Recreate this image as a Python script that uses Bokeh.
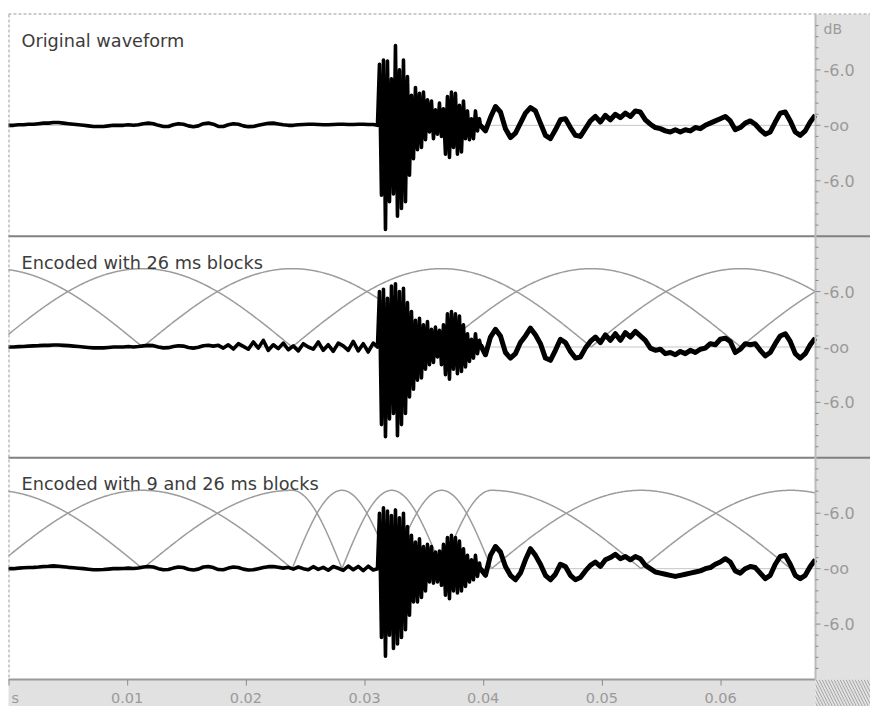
import numpy as np
from bokeh.plotting import figure
from bokeh.models import Range1d
from bokeh.embed import file_html
from bokeh.resources import INLINE
from bokeh.core.properties import value

# ---------------- data ----------------
panel_titles = ["Original waveform",
                "Encoded with 26 ms blocks",
                "Encoded with 9 and 26 ms blocks"]

time_ticks = [0.0, 0.01, 0.02, 0.03, 0.04, 0.05, 0.06]
time_tick_labels = ["s", "0.01", "0.02", "0.03", "0.04", "0.05", "0.06"]

db_major = [0.5, 0.0, -0.5]
db_major_labels = ["-6.0", "-oo", "-6.0"]
db_minor = [0.9, 0.8, 0.7, 0.6, 0.4, 0.3, 0.2, 0.1,
            -0.1, -0.2, -0.3, -0.4, -0.6, -0.7, -0.8, -0.9]
db_unit = "dB"

t_view_end = 0.068  # seconds shown

# waveform samples (amplitude, full scale = 1), three segments each,
# segment start time and sample step in ms
pre_start_ms, pre_step_ms = 0.0, 0.421
burst_start_ms, burst_step_ms = 31.09, 0.1685
tail_start_ms, tail_step_ms = 39.77, 0.421

pre_orig = [0.0, 0.0, 0.005, 0.005, 0.01, 0.01, 0.015, 0.02, 0.02, 0.025,
            0.025, 0.02, 0.015, 0.01, 0.005, 0.0, -0.005, -0.01, -0.01, -0.01,
            -0.005, 0.0, 0.0, 0.0, 0.005, 0.0, 0.005, 0.015, 0.02, 0.015,
            0.0, -0.01, -0.01, 0.005, 0.015, 0.01, -0.005, -0.012, -0.005, 0.015,
            0.02, 0.01, -0.01, -0.01, 0.005, 0.015, 0.01, -0.005, -0.012, -0.01,
            0.0, 0.01, 0.018, 0.02, 0.012, 0.005, 0.0, 0.0, 0.005, 0.008,
            0.01, 0.01, 0.008, 0.005, 0.005, 0.008, 0.01, 0.01, 0.008, 0.008,
            0.01, 0.01, 0.008, 0.008]
pre_26 = [0.0, 0.0, 0.003, 0.005, 0.008, 0.01, 0.012, 0.015, 0.015, 0.018,
          0.018, 0.015, 0.012, 0.008, 0.004, 0.0, -0.004, -0.008, -0.008, -0.008,
          -0.004, 0.0, 0.0, 0.0, 0.004, 0.0, 0.004, 0.01, 0.015, 0.012,
          0.0, -0.008, -0.006, 0.004, 0.012, 0.008, -0.004, -0.01, -0.002, 0.012,
          0.016, 0.008,
          0.015, -0.01, 0.02, -0.018, 0.03, 0.005, -0.02, 0.045, -0.01, 0.06,
          -0.03, 0.02, -0.015, 0.035, -0.025, 0.01, -0.035, 0.03, 0.0, -0.02,
          0.045, -0.03, 0.02, -0.04, 0.035, 0.01, -0.03, 0.05, -0.035, 0.03,
          -0.045, 0.035]
pre_mix = [0.0, 0.0, 0.005, 0.008, 0.01, 0.012, 0.015, 0.02, 0.022, 0.025,
           0.022, 0.018, 0.012, 0.008, 0.004, 0.0, -0.005, -0.01, -0.01, -0.008,
           -0.004, 0.0, 0.0, 0.002, 0.005, 0.002, 0.006, 0.015, 0.02, 0.015,
           0.0, -0.01, -0.008, 0.005, 0.015, 0.01, -0.005, -0.012, -0.004, 0.015,
           0.02, 0.01, -0.008, -0.01, 0.005, 0.015, 0.01, -0.004, -0.012, -0.01,
           0.0, 0.01, 0.018, 0.02, 0.012, 0.005,
           0.012, -0.004, 0.015, 0.0, -0.01, 0.018, -0.006, 0.012, -0.014, 0.02,
           0.004, -0.015, 0.024, -0.01, 0.02, -0.018, 0.022, -0.012]

burst_orig = [0.0,
              0.55, -0.63, 0.59, -0.94, 0.58, -0.69, 0.42, -0.62, 0.72, -0.82,
              0.5, -0.75, 0.59, -0.69, 0.44, -0.45, 0.27, -0.3, 0.34, -0.22,
              0.29, -0.2, 0.3, -0.13, 0.23, -0.06, 0.22, -0.12, 0.14, -0.08,
              0.2, -0.1, 0.15, -0.26, 0.26, -0.29, 0.3, -0.2, 0.29, -0.26,
              0.18, -0.24, 0.22, -0.12, 0.13, -0.13, 0.06, -0.12, 0.13, -0.05,
              0.06]
burst_26 = [0.0,
            0.5, -0.7, 0.52, -0.81, 0.44, -0.65, 0.55, -0.6, 0.57, -0.8,
            0.5, -0.7, 0.53, -0.6, 0.4, -0.45, 0.32, -0.38, 0.24, -0.3,
            0.26, -0.28, 0.2, -0.2, 0.23, -0.16, 0.16, -0.14, 0.18, -0.09,
            0.15, -0.16, 0.2, -0.25, 0.3, -0.29, 0.32, -0.2, 0.3, -0.24,
            0.28, -0.22, 0.2, -0.18, 0.12, -0.13, 0.07, -0.1, 0.12, -0.06,
            0.06]
burst_mix = [0.0,
             0.5, -0.62, 0.55, -0.79, 0.52, -0.6, 0.48, -0.72, 0.53, -0.68,
             0.46, -0.62, 0.5, -0.55, 0.38, -0.42, 0.3, -0.3, 0.24, -0.3,
             0.27, -0.26, 0.2, -0.2, 0.22, -0.12, 0.2, -0.13, 0.15, -0.12,
             0.16, -0.15, 0.22, -0.24, 0.28, -0.27, 0.3, -0.2, 0.28, -0.22,
             0.25, -0.2, 0.18, -0.16, 0.12, -0.12, 0.08, -0.1, 0.12, -0.07,
             0.05]

tail_orig = [0.0, -0.05, 0.07, 0.17, 0.12, -0.03, -0.11, -0.07, 0.02, 0.11,
             0.16, 0.13, 0.02, -0.09, -0.12, -0.04, 0.05, 0.06, -0.02, -0.09,
             -0.1, -0.03, 0.04, 0.08, 0.03, 0.09, 0.05, 0.1, 0.07, 0.11,
             0.08, 0.13, 0.12, 0.05, 0.01, -0.02, -0.03, -0.05, -0.06, -0.04,
             -0.06, -0.04, -0.05, -0.02, -0.03, 0.0, 0.02, 0.04, 0.06, 0.08,
             0.04, -0.04, -0.02, 0.02, 0.04, 0.01, -0.04, -0.08, -0.06, 0.03,
             0.11, 0.12, 0.04, -0.06, -0.09, -0.05, 0.03, 0.09]
tail_26 = [0.02, -0.07, 0.09, 0.16, 0.1, -0.05, -0.1, -0.06, 0.04, 0.1,
           0.17, 0.11, 0.03, -0.1, -0.12, -0.03, 0.07, 0.04, -0.04, -0.1,
           -0.09, -0.01, 0.05, 0.09, 0.04, 0.11, 0.06, 0.12, 0.06, 0.13,
           0.09, 0.14, 0.1, 0.06, -0.01, -0.03, -0.02, -0.06, -0.05, -0.07,
           -0.04, -0.06, -0.03, -0.05, -0.02, -0.01, 0.03, 0.02, 0.07, 0.08,
           0.05, -0.05, -0.02, 0.03, 0.02, 0.03, -0.03, -0.08, -0.05, 0.03,
           0.1, 0.12, 0.05, -0.06, -0.1, -0.06, 0.02, 0.08]
tail_mix = [0.0, -0.06, 0.12, 0.2, 0.15, 0.02, -0.06, -0.1, -0.04, 0.08,
            0.18, 0.12, 0.04, -0.06, -0.1, -0.05, 0.04, 0.02, -0.06, -0.1,
            -0.08, -0.02, 0.03, 0.06, 0.02, 0.08, 0.1, 0.13, 0.09, 0.11,
            0.08, 0.11, 0.09, 0.03, 0.0, -0.03, -0.04, -0.05, -0.06, -0.07,
            -0.06, -0.05, -0.04, -0.03, -0.02, 0.0, 0.01, 0.04, 0.06, 0.09,
            0.06, -0.02, -0.04, 0.0, 0.02, 0.01, -0.04, -0.09, -0.06, 0.04,
            0.11, 0.12, 0.04, -0.06, -0.09, -0.06, 0.02, 0.08]

# MDCT windows (ms): rise start, peak start, peak end, fall end
window_peak = 0.707
win26_rise_start = [-13.9, -1.3, 11.3, 23.9, 36.5, 49.1, 61.7]
win26_peak_start = [-1.3, 11.3, 23.9, 36.5, 49.1, 61.7, 74.3]
win26_peak_end = [-1.3, 11.3, 23.9, 36.5, 49.1, 61.7, 74.3]
win26_fall_end = [11.3, 23.9, 36.5, 49.1, 61.7, 74.3, 86.9]

winmix_rise_start = [-13.9, -1.3, 11.3, 23.9, 28.1, 32.3, 36.5, 40.7, 53.3]
winmix_peak_start = [-1.3, 11.3, 23.9, 28.1, 32.3, 36.5, 40.7, 53.3, 65.9]
winmix_peak_end = [-1.3, 11.3, 23.9, 28.1, 32.3, 36.5, 40.7, 53.3, 65.9]
winmix_fall_end = [11.3, 23.9, 28.1, 32.3, 36.5, 40.7, 53.3, 65.9, 78.5]

# ---------------- layout (page pixels) ----------------
W, H = 870, 706
PX_T0 = 8           # x pixel of t = 0
PX_T_END = 815      # x pixel where the time view ends
PX_TOP = 14         # y pixel of the top of the panels
PX_BOTTOM = 679     # y pixel of the bottom of the panels
STRIP = "#e1e1e1"
FONT = value("DejaVu Sans")

upx_x = t_view_end / (PX_T_END - PX_T0)
upx_y = 6.0 / (PX_BOTTOM - PX_TOP)
x_start = -PX_T0 * upx_x
x_end = (W - PX_T0) * upx_x
y_top = 3 + PX_TOP * upx_y
y_bot = -3 - (H - PX_BOTTOM) * upx_y
centers = [2.0, 0.0, -2.0]


def ypx(px):  # page pixel row -> data y
    return y_top - px * upx_y


p = figure(width=W, height=H, x_range=Range1d(x_start, x_end), y_range=Range1d(y_bot, y_top),
           x_axis_type=None, y_axis_type=None, toolbar_location=None,
           output_backend="svg", min_border=0, outline_line_color=None,
           background_fill_color="white", border_fill_color="white")

# strips
p.quad(left=[t_view_end], right=[x_end], bottom=[-3], top=[3],
       fill_color=STRIP, line_color=None)
p.quad(left=[0], right=[t_view_end], bottom=[y_bot], top=[-3],
       fill_color=STRIP, line_color=None)
p.quad(left=[t_view_end], right=[x_end], bottom=[y_bot], top=[-3],
       fill_color=STRIP, line_color=None, hatch_pattern="\\",
       hatch_color="#a8a8a8", hatch_scale=6, hatch_weight=1)

# zero lines
p.segment(x0=[0] * 3, y0=centers, x1=[t_view_end] * 3, y1=centers,
          line_color="#c6c6c6", line_width=1)


def window_curves(rs, ps, pe, fe, center):
    xs, ys = [], []
    for a, b, c, d in zip(rs, ps, pe, fe):
        lo, hi = max(a, 0.0), min(d, t_view_end * 1000)
        if lo >= hi:
            continue
        t = np.linspace(lo, hi, 300)
        w = np.where(t < b, np.sin(0.5 * np.pi * (t - a) / (b - a)),
                     np.where(t <= c, 1.0,
                              np.cos(0.5 * np.pi * (t - c) / (d - c))))
        xs.append(list(t / 1000.0))
        ys.append(list(center + window_peak * w))
    return xs, ys


for (rs, ps, pe, fe), c in [((win26_rise_start, win26_peak_start, win26_peak_end, win26_fall_end), centers[1]),
                            ((winmix_rise_start, winmix_peak_start, winmix_peak_end, winmix_fall_end), centers[2])]:
    xs, ys = window_curves(rs, ps, pe, fe, c)
    p.multi_line(xs=xs, ys=ys, line_color="#9c9c9c", line_width=1.5)


def seg_times(start, step, n):
    return [(start + i * step) / 1000.0 for i in range(n)]


for (pre, burst, tail), c in zip([(pre_orig, burst_orig, tail_orig),
                                  (pre_26, burst_26, tail_26),
                                  (pre_mix, burst_mix, tail_mix)], centers):
    t = (seg_times(pre_start_ms, pre_step_ms, len(pre))
         + seg_times(burst_start_ms, burst_step_ms, len(burst))
         + seg_times(tail_start_ms, tail_step_ms, len(tail)))
    v = [c + a for a in (pre + burst + tail)]
    p.line(t, v, line_color="black", line_width=3.6, line_join="round")
    # the decaying tail is drawn thicker, as in the reference
    p.line(seg_times(tail_start_ms, tail_step_ms, len(tail)), [c + a for a in tail],
           line_color="black", line_width=5, line_join="round")

# panel separators
p.segment(x0=[0, 0], y0=[1, -1], x1=[x_end, x_end], y1=[1, -1],
          line_color="#808080", line_width=2)
# dashed top and left borders
p.segment(x0=[0], y0=[3 + 0.5 * upx_y], x1=[x_end], y1=[3 + 0.5 * upx_y],
          line_color="#9a9a9a", line_width=1, line_dash="3 2")
p.segment(x0=[0.5 * upx_x], y0=[3], x1=[0.5 * upx_x], y1=[-3],
          line_color="#9a9a9a", line_width=1, line_dash="3 2")
# time axis line and ticks
p.segment(x0=[0], y0=[-3], x1=[t_view_end], y1=[-3], line_color="#9a9a9a", line_width=2)
p.segment(x0=[t + 0.5 * upx_x for t in time_ticks], y0=[-3] * len(time_ticks),
          x1=[t + 0.5 * upx_x for t in time_ticks], y1=[-3 - 6 * upx_y] * len(time_ticks),
          line_color="#8a8a8a", line_width=1)
# dB axis line and ticks
p.segment(x0=[t_view_end], y0=[3], x1=[t_view_end], y1=[-3], line_color="#bcbcbc", line_width=2)
maj_y = [c + d for c in centers for d in db_major]
min_y = [c + d for c in centers for d in db_minor]
p.segment(x0=[t_view_end] * len(maj_y), y0=maj_y, x1=[t_view_end + 5 * upx_x] * len(maj_y), y1=maj_y,
          line_color="#8a8a8a", line_width=1)
p.segment(x0=[t_view_end] * len(min_y), y0=min_y, x1=[t_view_end + 3 * upx_x] * len(min_y), y1=min_y,
          line_color="#8a8a8a", line_width=1)

# texts
p.text(x=[13 * upx_x] * 3, y=[c + 1 - 26.5 * upx_y for c in centers], text=panel_titles,
       text_font=FONT, text_font_size="17.7px", text_color="#3c3c3c",
       text_align="left", text_baseline="alphabetic")
p.text(x=[t_view_end + 8 * upx_x] * len(maj_y), y=maj_y, text=db_major_labels * 3,
       text_font=FONT, text_font_size="16px", text_color="#9a9a9a",
       text_align="left", text_baseline="middle")
p.text(x=[t_view_end + 8 * upx_x], y=[ypx(28)], text=[db_unit],
       text_font=FONT, text_font_size="14px", text_color="#9a9a9a",
       text_align="left", text_baseline="middle")
tx = [3 * upx_x if lab == "s" else t for t, lab in zip(time_ticks, time_tick_labels)]
ta = ["left" if lab == "s" else "center" for lab in time_tick_labels]
p.text(x=tx, y=[ypx(697)] * len(tx), text=time_tick_labels, text_align=ta,
       text_font=FONT, text_font_size="14.5px", text_color="#9a9a9a",
       text_baseline="alphabetic")

open("out.html", "w").write(file_html(p, INLINE))
